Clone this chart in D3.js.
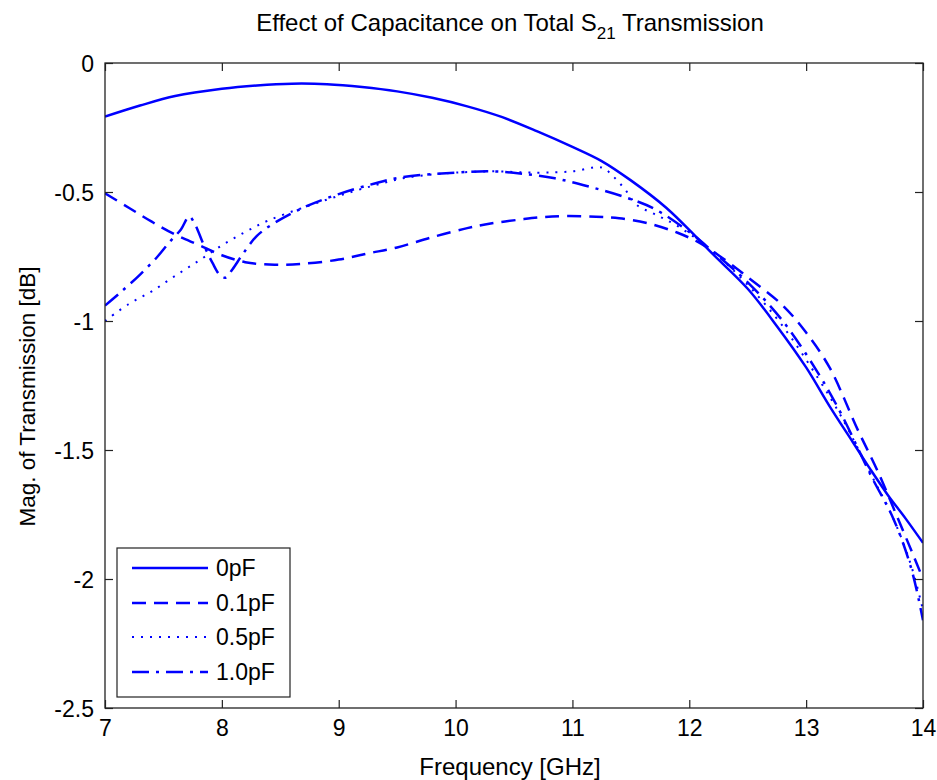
<!DOCTYPE html>
<html><head><meta charset="utf-8">
<script src="https://cdn.jsdelivr.net/npm/d3@7"></script>
<style>
body{margin:0;background:#fff}
text{font-family:"Liberation Sans",Arial,Helvetica,sans-serif;fill:#000}
</style>
</head><body>
<svg id="chart" width="937" height="780"></svg>
<script>
// ---------- data ----------
const xTicks = [7, 8, 9, 10, 11, 12, 13, 14];
const yTicks = [0, -0.5, -1, -1.5, -2, -2.5];
const yTickLabels = ["0", "-0.5", "-1", "-1.5", "-2", "-2.5"];
const seriesNames = ["0pF", "0.1pF", "0.5pF", "1.0pF"];

const freq_0pF = [7.0,7.3,7.6,8.0,8.3,8.6,8.9,9.2,9.5,9.8,10.1,10.4,10.7,11.0,11.25,11.5,11.8,12.05,12.2,12.5,12.75,13.0,13.2,13.4,13.55,13.7,13.85,14.0];
const mag_0pF  = [-0.208,-0.165,-0.128,-0.1,-0.087,-0.08,-0.082,-0.093,-0.11,-0.135,-0.168,-0.21,-0.265,-0.325,-0.38,-0.455,-0.56,-0.67,-0.74,-0.875,-1.02,-1.18,-1.33,-1.47,-1.575,-1.675,-1.765,-1.86];

const freq_01pF = [7.0,7.2,7.4,7.6,7.8,8.0,8.2,8.45,8.7,9.0,9.25,9.5,9.8,10.1,10.3,10.55,10.75,10.95,11.2,11.4,11.65,11.9,12.1,12.25,12.5,12.8,13.0,13.2,13.44,13.61,13.78,13.91,14.0];
const mag_01pF  = [-0.505,-0.56,-0.615,-0.665,-0.705,-0.745,-0.772,-0.782,-0.778,-0.762,-0.738,-0.715,-0.675,-0.64,-0.622,-0.607,-0.597,-0.593,-0.596,-0.602,-0.622,-0.658,-0.7,-0.745,-0.83,-0.94,-1.045,-1.18,-1.42,-1.58,-1.76,-1.9,-2.0];

const freq_05pF = [7.0,7.2,7.4,7.6,7.8,8.0,8.2,8.4,8.7,9.0,9.3,9.55,9.8,10.0,10.3,10.7,11.0,11.25,11.35,11.45,11.55,11.7,11.9,12.2,12.5,12.8,13.1,13.3,13.55,13.75,13.9,14.0];
const mag_05pF  = [-1.0,-0.935,-0.885,-0.825,-0.767,-0.707,-0.655,-0.61,-0.56,-0.515,-0.475,-0.447,-0.432,-0.425,-0.42,-0.425,-0.42,-0.405,-0.44,-0.49,-0.55,-0.585,-0.632,-0.73,-0.86,-1.02,-1.22,-1.37,-1.59,-1.77,-1.95,-2.12];

const freq_10pF = [7.0,7.13,7.3,7.45,7.55,7.65,7.72,7.77,7.84,7.92,7.98,8.03,8.09,8.18,8.3,8.45,8.7,9.0,9.3,9.55,10.0,10.3,10.55,10.85,11.15,11.45,11.7,12.0,12.2,12.5,12.8,13.1,13.3,13.55,13.75,13.9,14.0];
const mag_10pF  = [-0.94,-0.89,-0.82,-0.75,-0.695,-0.645,-0.595,-0.625,-0.7,-0.775,-0.82,-0.832,-0.8,-0.74,-0.67,-0.62,-0.56,-0.508,-0.468,-0.442,-0.425,-0.42,-0.428,-0.447,-0.48,-0.52,-0.565,-0.655,-0.73,-0.85,-1.0,-1.2,-1.36,-1.595,-1.77,-1.96,-2.16];

const dashStyles = ["none", "14,8", "2,7", "17,7,3,7"];
const lineWidths = [2.5, 2.5, 2, 2.5];

// ---------- chart ----------
const svg = d3.select("#chart");
const L = 105, R = 923, T = 63, B = 708;
const x = d3.scaleLinear().domain([7, 14]).range([L, R]);
const y = d3.scaleLinear().domain([-2.5, 0]).range([B, T]);
const FONT = 23;

const series = [
  {name: seriesNames[0], f: freq_0pF,  v: mag_0pF},
  {name: seriesNames[1], f: freq_01pF, v: mag_01pF},
  {name: seriesNames[2], f: freq_05pF, v: mag_05pF},
  {name: seriesNames[3], f: freq_10pF, v: mag_10pF}
];

svg.append("defs").append("clipPath").attr("id", "clip")
  .append("rect").attr("x", L).attr("y", T).attr("width", R - L).attr("height", B - T);

const line = d3.line().x(d => x(d[0])).y(d => y(d[1])).curve(d3.curveCatmullRom.alpha(0.5));

svg.append("g").attr("clip-path", "url(#clip)")
  .selectAll("path").data(series).join("path")
  .attr("d", s => line(s.f.map((f, i) => [f, s.v[i]])))
  .attr("fill", "none").attr("stroke", "#0000ff")
  .attr("stroke-width", (s, i) => lineWidths[i])
  .attr("stroke-dasharray", (s, i) => dashStyles[i])
  .attr("stroke-linejoin", "round");

// axes
const gx = svg.append("g").attr("transform", `translate(0,${B})`)
  .call(d3.axisBottom(x).tickValues(xTicks).tickFormat(d3.format("d")).tickSizeInner(-8).tickSizeOuter(0).tickPadding(12));
const gxt = svg.append("g").attr("transform", `translate(0,${T})`)
  .call(d3.axisTop(x).tickValues(xTicks).tickFormat("").tickSizeInner(-8).tickSizeOuter(0));
const gy = svg.append("g").attr("transform", `translate(${L},0)`)
  .call(d3.axisLeft(y).tickValues(yTicks).tickFormat((d, i) => yTickLabels[i]).tickSizeInner(-8).tickSizeOuter(0).tickPadding(11));
const gyr = svg.append("g").attr("transform", `translate(${R},0)`)
  .call(d3.axisRight(y).tickValues(yTicks).tickFormat("").tickSizeInner(-8).tickSizeOuter(0));

[gx, gxt, gy, gyr].forEach(g => {
  g.select(".domain").remove();
  g.selectAll(".tick line").attr("stroke", "#222").attr("stroke-width", 1.2);
  g.selectAll("text").attr("font-size", FONT).attr("font-family", null).style("fill", "#000");
});
gy.selectAll(".tick text").attr("dy", "0.36em");

svg.append("rect").attr("x", L).attr("y", T).attr("width", R - L).attr("height", B - T)
  .attr("fill", "none").attr("stroke", "#222").attr("stroke-width", 1.3);

// titles
const title = svg.append("text").attr("x", 510).attr("y", 31).attr("text-anchor", "middle").attr("font-size", 24);
title.append("tspan").text("Effect of Capacitance on Total S");
title.append("tspan").attr("font-size", 17).attr("dy", 8).text("21");
title.append("tspan").attr("dy", -8).text(" Transmission");

svg.append("text").attr("x", 510).attr("y", 775).attr("text-anchor", "middle")
  .attr("font-size", 24).text("Frequency [GHz]");
svg.append("text").attr("transform", `translate(35,${(T + B) / 2 + 11}) rotate(-90)`)
  .attr("text-anchor", "middle").attr("font-size", 22.5).text("Mag. of Transmission [dB]");

// legend
const lg = svg.append("g");
lg.append("rect").attr("x", 117).attr("y", 548).attr("width", 173).attr("height", 149)
  .attr("fill", "#fff").attr("stroke", "#222").attr("stroke-width", 1.2);
const rows = [568, 603, 637, 672];
series.forEach((s, i) => {
  lg.append("line").attr("x1", 132).attr("x2", 208).attr("y1", rows[i]).attr("y2", rows[i])
    .attr("stroke", "#0000ff").attr("stroke-width", lineWidths[i]).attr("stroke-dasharray", dashStyles[i]);
  lg.append("text").attr("x", 216).attr("y", rows[i] + 8).attr("font-size", FONT).text(s.name);
});
</script>
</body></html>
